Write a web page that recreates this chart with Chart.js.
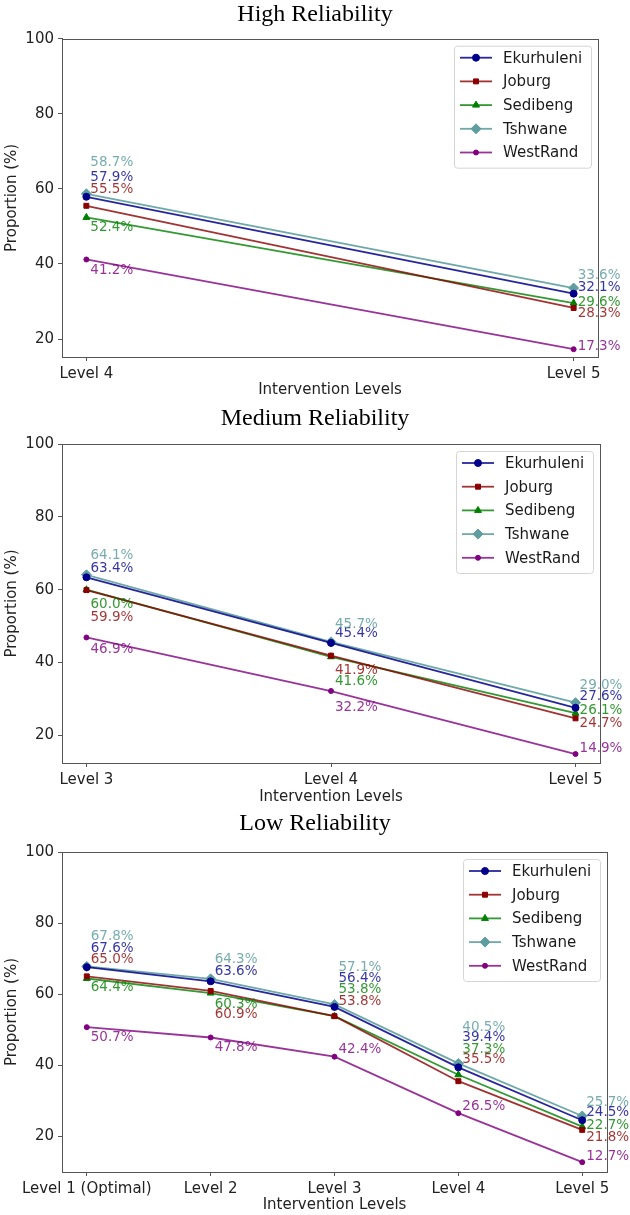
<!DOCTYPE html>
<html>
<head>
<meta charset="utf-8">
<script src="https://cdn.jsdelivr.net/npm/chart.js@4.4.1/dist/chart.umd.min.js"></script>
<style>
  html, body { margin: 0; padding: 0; background: #fff; }
  body { width: 630px; height: 1215px; position: relative; overflow: hidden; }
  .box { position: absolute; left: 0; width: 630px; height: 405px; }
  canvas { display: block; }
</style>
</head>
<body>
<div class="box" style="top:0px"><canvas id="c1" width="630" height="405"></canvas></div>
<div class="box" style="top:405px"><canvas id="c2" width="630" height="405"></canvas></div>
<div class="box" style="top:810px"><canvas id="c3" width="630" height="405"></canvas></div>
<script>
// ---------------- DATA ----------------
const seriesNames = ['Ekurhuleni', 'Joburg', 'Sedibeng', 'Tshwane', 'WestRand'];
const yTickValues = [20, 40, 60, 80, 100];

const highTitle = 'High Reliability';
const highLevels = ['Level 4', 'Level 5'];
const highEkurhuleni = [57.9, 32.1];
const highJoburg     = [55.5, 28.3];
const highSedibeng   = [52.4, 29.6];
const highTshwane    = [58.7, 33.6];
const highWestRand   = [41.2, 17.3];

const mediumTitle = 'Medium Reliability';
const mediumLevels = ['Level 3', 'Level 4', 'Level 5'];
const mediumEkurhuleni = [63.4, 45.4, 27.6];
const mediumJoburg     = [59.9, 41.9, 24.7];
const mediumSedibeng   = [60.0, 41.6, 26.1];
const mediumTshwane    = [64.1, 45.7, 29.0];
const mediumWestRand   = [46.9, 32.2, 14.9];

const lowTitle = 'Low Reliability';
const lowLevels = ['Level 1 (Optimal)', 'Level 2', 'Level 3', 'Level 4', 'Level 5'];
const lowEkurhuleni = [67.6, 63.6, 56.4, 39.4, 24.5];
const lowJoburg     = [65.0, 60.9, 53.8, 35.5, 21.8];
const lowSedibeng   = [64.4, 60.3, 53.8, 37.3, 22.7];
const lowTshwane    = [67.8, 64.3, 57.1, 40.5, 25.7];
const lowWestRand   = [50.7, 47.8, 42.4, 26.5, 12.7];

// ---------------- STYLE ----------------
const styles = [
  { line: 'rgba(0,0,139,0.85)',   marker: '#00008B', text: 'rgba(0,0,139,0.8)',   shape: 'circle',   r: 3.5 },
  { line: 'rgba(139,0,0,0.8)',    marker: '#8B0000', text: 'rgba(139,0,0,0.8)',   shape: 'rect',     r: 3.5 },
  { line: 'rgba(0,128,0,0.8)',    marker: '#008000', text: 'rgba(0,128,0,0.8)',   shape: 'triangle', r: 4 },
  { line: 'rgba(95,158,160,0.9)', marker: '#5F9EA0', text: 'rgba(95,158,160,0.85)', shape: 'rectRot', r: 5 },
  { line: 'rgba(128,0,128,0.8)',  marker: '#800080', text: 'rgba(128,0,128,0.8)', shape: 'circle',   r: 2.5 }
];

// label pixel offsets (dy per series per level), order as seriesNames
const highLabelDy   = [[-19, -6], [-16, 6], [10, -1], [-31, -13], [11, -3]];
const mediumLabelDy = [[-9, -9, -11], [27, 15, 5], [15, 25, -3], [-19, -17, -17], [12, 16, -6]];
const lowLabelDy    = [[-19, -10, -28, -30, -8], [-17, 24, -15, -22, 8], [9, 11, -27, -25, -1], [-30, -19, -37, -36, -14], [10, 10, -7, -7, -6]];

const FONT = '"DejaVu Sans", sans-serif';

const decorPlugin = {
  id: 'decor',
  afterDatasetsDraw(chart, args, opts) {
    const ctx = chart.ctx;
    ctx.save();
    ctx.font = '13.5px ' + FONT;
    ctx.textAlign = 'left';
    ctx.textBaseline = 'middle';
    chart.data.datasets.forEach((ds, i) => {
      const meta = chart.getDatasetMeta(i);
      meta.data.forEach((pt, j) => {
        const v = ds.data[j].y;
        ctx.fillStyle = styles[i].text;
        ctx.fillText(v.toFixed(1) + '%', pt.x + 4, pt.y + opts.dy[i][j]);
      });
    });
    ctx.restore();
  },
  afterDraw(chart, args, opts) {
    const ctx = chart.ctx;
    const a = chart.chartArea;
    ctx.save();
    // title, centred on the figure
    ctx.fillStyle = '#000';
    ctx.font = '24px "Liberation Serif", "Times New Roman", serif';
    ctx.textAlign = 'center';
    ctx.textBaseline = 'middle';
    ctx.fillText(opts.title, chart.width / 2, opts.titleY);
    // frame
    ctx.strokeStyle = '#555';
    ctx.lineWidth = 1;
    ctx.strokeRect(Math.round(a.left) + 0.5, Math.round(a.top) + 0.5, Math.round(a.right - a.left), Math.round(a.bottom - a.top));
    // legend
    const w = 137, h = 122;
    const lx = a.right - 7 - w, ly = a.top + 7;
    ctx.fillStyle = 'rgba(255,255,255,0.85)';
    ctx.strokeStyle = '#d5d5d5';
    ctx.lineWidth = 1;
    ctx.beginPath();
    ctx.roundRect(lx + 0.5, ly + 0.5, w, h, 3);
    ctx.fill();
    ctx.stroke();
    ctx.font = '15px ' + FONT;
    ctx.textBaseline = 'middle';
    ctx.textAlign = 'left';
    chart.data.datasets.forEach((ds, i) => {
      const y = ly + 12 + i * 23.7;
      const st = styles[i];
      ctx.strokeStyle = st.line;
      ctx.lineWidth = 1.8;
      ctx.beginPath();
      ctx.moveTo(lx + 6, y);
      ctx.lineTo(lx + 38, y);
      ctx.stroke();
      ctx.fillStyle = st.marker;
      ctx.strokeStyle = st.marker;
      ctx.lineWidth = 1;
      Chart.helpers.drawPoint(ctx, { pointStyle: st.shape, radius: st.r, rotation: 0, borderWidth: 1 }, lx + 22, y);
      ctx.fillStyle = '#1a1a1a';
      ctx.fillText(seriesNames[i], lx + 49, y + 1);
    });
    ctx.restore();
  }
};

function makeChart(id, title, levels, series, dy, lay) {
  const n = levels.length;
  const all = series.flat();
  const dMin = Math.min(...all), dMax = Math.max(...all);
  const yMin = dMin - 0.05 * (dMax - dMin);
  const xm = 0.05 * (n - 1);
  const datasets = series.map((vals, i) => ({
    label: seriesNames[i],
    data: vals.map((v, j) => ({ x: j, y: v })),
    borderColor: styles[i].line,
    backgroundColor: styles[i].marker,
    pointBackgroundColor: styles[i].marker,
    pointBorderColor: styles[i].marker,
    pointStyle: styles[i].shape,
    pointRadius: styles[i].r,
    pointBorderWidth: 1,
    borderWidth: 1.8,
    tension: 0,
    fill: false
  }));
  return new Chart(document.getElementById(id), {
    type: 'line',
    data: { datasets },
    plugins: [decorPlugin],
    options: {
      responsive: false,
      animation: false,
      devicePixelRatio: 1,
      layout: { padding: { left: 0, right: lay.right, top: lay.top, bottom: 0 } },
      plugins: {
        legend: { display: false },
        tooltip: { enabled: false },
        title: { display: false },
        decor: { dy, title, titleY: lay.titleY }
      },
      scales: {
        x: {
          type: 'linear', min: -xm, max: (n - 1) + xm,
          afterBuildTicks: (ax) => { ax.ticks = levels.map((l, i) => ({ value: i })); },
          afterFit: (ax) => { ax.height = lay.xH; },
          ticks: { callback: (v) => levels[v], autoSkip: false, maxRotation: 0, color: '#222', font: { family: FONT, size: 15 }, padding: 4 },
          grid: { drawOnChartArea: false, drawTicks: true, tickLength: 4, color: '#555' },
          border: { display: true, color: '#555', width: 1 },
          title: { display: true, text: 'Intervention Levels', color: '#222', font: { family: FONT, size: 15 }, padding: { top: 0, bottom: lay.xtB } }
        },
        y: {
          type: 'linear', min: yMin, max: 100,
          afterBuildTicks: (ax) => { ax.ticks = yTickValues.map(v => ({ value: v })); },
          afterFit: (ax) => { ax.width = 62; },
          ticks: { color: '#222', font: { family: FONT, size: 15 }, padding: 4 },
          grid: { drawOnChartArea: false, drawTicks: true, tickLength: 4, color: '#555' },
          border: { display: true, color: '#555', width: 1 },
          title: { display: true, text: 'Proportion (%)', color: '#222', font: { family: FONT, size: 15 }, padding: { top: 3, bottom: 0 } }
        }
      }
    }
  });
}

makeChart('c1', highTitle, highLevels,
  [highEkurhuleni, highJoburg, highSedibeng, highTshwane, highWestRand], highLabelDy,
  { right: 32, top: 38.7, titleY: 15, xH: 48, xtB: 6 });
makeChart('c2', mediumTitle, mediumLevels,
  [mediumEkurhuleni, mediumJoburg, mediumSedibeng, mediumTshwane, mediumWestRand], mediumLabelDy,
  { right: 30, top: 39, titleY: 14, xH: 47, xtB: 4 });
makeChart('c3', lowTitle, lowLevels,
  [lowEkurhuleni, lowJoburg, lowSedibeng, lowTshwane, lowWestRand], lowLabelDy,
  { right: 23, top: 42, titleY: 14, xH: 43, xtB: 1 });
</script>
</body>
</html>
